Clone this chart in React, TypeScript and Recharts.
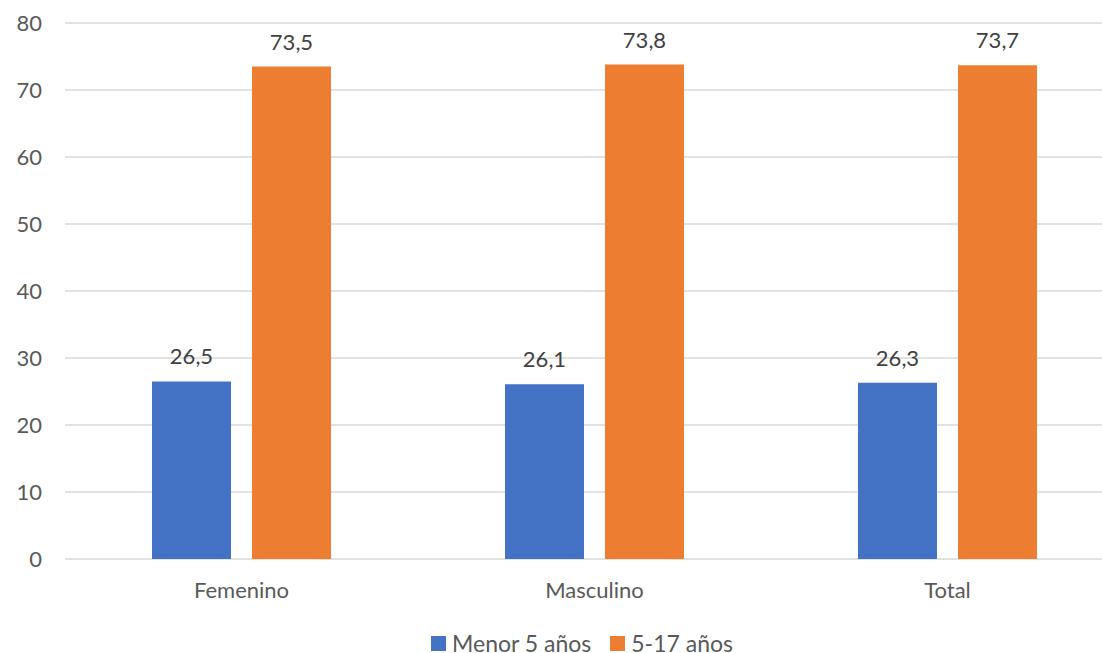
import { Bar, BarChart, CartesianGrid, LabelList, Legend, XAxis, YAxis } from "recharts";

const categories = ["Femenino", "Masculino", "Total"];
const menor5 = [26.5, 26.1, 26.3];
const de5a17 = [73.5, 73.8, 73.7];
const yTicks = [0, 10, 20, 30, 40, 50, 60, 70, 80];

const data = categories.map((name, i) => ({
  name,
  menor: menor5[i],
  mayor: de5a17[i],
}));

const FONT = "Lato, 'Open Sans', sans-serif";
const TEXT = "#595959";
const BLUE = "#4472C4";
const ORANGE = "#ED7D31";

const fmt = (v: any) => String(v).replace(".", ",");

const LegendBox = () => (
  <div
    style={{
      display: "flex",
      justifyContent: "center",
      alignItems: "center",
      gap: 19,
      paddingLeft: 62,
      fontFamily: FONT,
      fontSize: 23,
      lineHeight: "20px",
      color: TEXT,
    }}
  >
    {[
      { label: "Menor 5 años", color: BLUE },
      { label: "5-17 años", color: ORANGE },
    ].map((it) => (
      <div key={it.label} style={{ display: "flex", alignItems: "center" }}>
        <span
          style={{
            display: "inline-block",
            width: 15,
            height: 15,
            background: it.color,
            marginRight: 6,
          }}
        />
        <span>{it.label}</span>
      </div>
    ))}
  </div>
);

export default function App() {
  return (
    <div
      style={{
        position: "absolute",
        top: 0,
        left: 0,
        width: 1102,
        height: 653,
        overflow: "hidden",
        background: "#fff",
      }}
    >
      <BarChart
        width={1102}
        height={653}
        data={data}
        margin={{ top: 23, right: -22, left: 0, bottom: 44 }}
        barCategoryGap={87}
        barGap={21}
      >
        <CartesianGrid vertical={false} stroke="#d9d9d9" strokeWidth={1.5} />
        <XAxis
          dataKey="name"
          axisLine={false}
          tickLine={false}
          tickSize={0}
          tickMargin={23}
          tick={{ fill: TEXT, fontSize: 22, fontFamily: FONT }}
        />
        <YAxis
          width={65}
          domain={[0, 80]}
          ticks={yTicks}
          axisLine={false}
          tickLine={false}
          tickSize={0}
          tickMargin={23}
          tick={{ fill: TEXT, fontSize: 22, fontFamily: FONT }}
        />
        <Legend
          content={<LegendBox />}
          wrapperStyle={{ left: 0, width: 1102, bottom: 0 }}
        />
        <Bar dataKey="menor" name="Menor 5 años" fill={BLUE} isAnimationActive={false}>
          <LabelList
            dataKey="menor"
            position="top"
            offset={17}
            formatter={fmt}
            style={{ fill: "#404040", fontSize: 22, fontFamily: FONT }}
          />
        </Bar>
        <Bar dataKey="mayor" name="5-17 años" fill={ORANGE} isAnimationActive={false}>
          <LabelList
            dataKey="mayor"
            position="top"
            offset={17}
            formatter={fmt}
            style={{ fill: "#404040", fontSize: 22, fontFamily: FONT }}
          />
        </Bar>
      </BarChart>
    </div>
  );
}
